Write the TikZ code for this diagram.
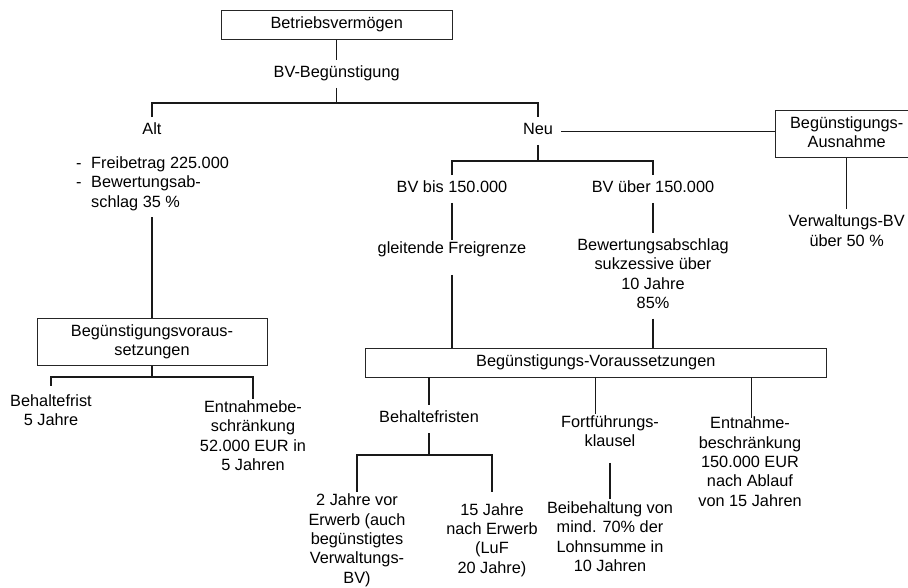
\documentclass[tikz,border=0pt]{standalone}
\usepackage{fontspec}
\setmainfont{Liberation Sans}
% stacked, strutted lines so every row has the same height
\newcommand\rows[1]{\begin{tabular}{@{}c@{}}#1\end{tabular}}
\newcommand\lrows[1]{\begin{tabular}{@{}l@{}}#1\end{tabular}}
\newcommand\dashitem[1]{\makebox[15pt][l]{-}#1}

\begin{document}
\begin{tikzpicture}[x=1pt,y=-1pt,
  lbl/.style={inner xsep=4pt, inner ysep=4pt, font=\fontsize{16.3}{19.4}\selectfont},
  frame/.style={lbl, draw=black!85, line width=0.9pt},
  link/.style={line width=1.1pt, black!90}]

\useasboundingbox (0,0) rectangle (908,588);
\clip (0,0) rectangle (908,588);

% --- top ---
\node[frame, minimum width=230.5pt, minimum height=29pt] (bv) at (336.7,25) {\rows{Betriebsvermögen}};
\node[lbl] (bvb) at (336.7,74.1) {\rows{BV-Begünstigung}};
\coordinate (j1) at (336.7,103);

\node[lbl] (alt) at (152,131.1) {\rows{Alt}};
\node[lbl] (neu) at (538,131.1) {\rows{Neu}};
\node[frame, minimum width=143.4pt, minimum height=46pt] (ausn) at (846.7,134) {\rows{Begünstigungs-\\Ausnahme}};
\node[lbl] (vbv) at (846.7,232.6) {\rows{Verwaltungs-BV\\über 50 \%}};

% --- old rules ---
\node[lbl, anchor=west] (altlist) at (72,184.1)
  {\lrows{\dashitem{Freibetrag 225.000}\\\dashitem{Bewertungsab-}\\\hspace{15pt}schlag 35 \%}};
\node[frame, minimum width=230pt, minimum height=46pt] (vor1) at (152,342) {\rows{Begünstigungsvoraus-\\setzungen}};
\coordinate (j2) at (152,377);
\node[lbl] (bf5) at (51,412.1) {\rows{Behaltefrist\\5 Jahre}};
\node[lbl] (ent5) at (253,437.8) {\rows{Entnahmebe-\\schränkung\\52.000 EUR in\\5 Jahren}};

% --- new rules ---
\coordinate (j3) at (538,161);
\node[lbl] (bvbis) at (452,189.1) {\rows{BV bis 150.000}};
\node[lbl] (bvueb) at (653,189.1) {\rows{BV über 150.000}};
\node[lbl] (gleit) at (452,250.1) {\rows{gleitende Freigrenze}};
\node[lbl] (bewab) at (653,275.7) {\rows{Bewertungsabschlag\\sukzessive über\\10 Jahre\\85\%}};
\node[frame, minimum width=461.7pt, minimum height=29pt] (vor2) at (595.8,362.5) {\rows{Begünstigungs-Voraussetzungen}};

\node[lbl] (befr) at (429,419.1) {\rows{Behaltefristen}};
\node[lbl] (fort) at (610,433.3) {\rows{Fortführungs-\\klausel}};
\node[lbl] (entn) at (750,463.6) {\rows{Entnahme-\\beschränkung\\150.000 EUR\\nach Ablauf\\von 15 Jahren}};
\coordinate (j4) at (429,455);
\node[lbl] (zwei) at (357,540.6) {\rows{2 Jahre vor\\Erwerb (auch\\begünstigtes\\Verwaltungs-\\BV)}};
\node[lbl] (fuenfz) at (492,540.4) {\rows{15 Jahre\\nach Erwerb\\(LuF\\20 Jahre)}};
\node[lbl] (beib) at (610,538.6) {\rows{Beibehaltung von\\mind. 70\% der\\Lohnsumme in\\10 Jahren}};

% --- connectors ---
\draw[link] (bv) -- (bvb);
\draw[link] (bvb.south) -- (j1);
\draw[link] (alt.north) |- (j1) -| (neu.north);
\draw[link, shorten <=4pt] (neu.east) -- (ausn.west |- neu.east);
\draw[link] (ausn) -- (vbv);

\draw[link] (alt.south |- altlist.south) -- (vor1.north);
\draw[link] (vor1.south) -- (j2);
\draw[link, shorten <=2.6pt, shorten >=-4pt] (bf5.north) |- (j2) -| (ent5.north);

\draw[link] (neu.south) -- (j3);
\draw[link] (bvbis.north) |- (j3) -| (bvueb.north);
\draw[link, shorten >=-4pt] (bvbis) -- (gleit);
\draw[link, shorten <=11pt] (gleit.south) -- (gleit.south |- vor2.north);
\draw[link] (bvueb) -- (bewab);
\draw[link] (bewab.south) -- (bewab.south |- vor2.north);

\draw[link] (befr.north |- vor2.south) -- (befr.north);
\draw[link, shorten >=-4pt] (vor2.south) -- (vor2.south |- fort.north);
\draw[link, shorten >=-7pt] ([xshift=1.7pt]entn.north |- vor2.south) -- ([xshift=1.7pt]entn.north);

\draw[link] (befr.south) -- (j4);
\draw[link, shorten <=-4pt, shorten >=5.6pt] (zwei.north) |- (j4) -| (fuenfz.north);
\draw[link, shorten <=6pt, shorten >=-3.8pt] (fort.south) -- (beib.north);
\end{tikzpicture}
\end{document}
